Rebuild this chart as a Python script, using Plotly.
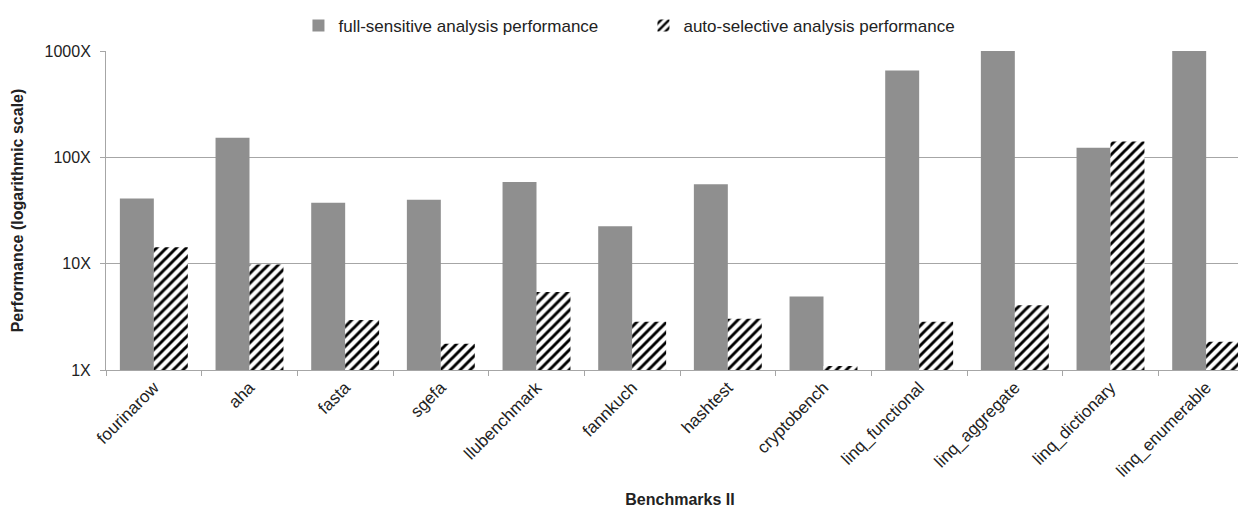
import plotly.graph_objects as go

categories = ["fourinarow", "aha", "fasta", "sgefa", "llubenchmark", "fannkuch",
              "hashtest", "cryptobench", "linq_functional", "linq_aggregate",
              "linq_dictionary", "linq_enumerable"]
full_sensitive = [41, 153, 37.3, 40, 58.7, 22.5, 55.8, 4.9, 654, 1000, 123, 1000]
auto_selective = [14.3, 9.8, 2.96, 1.77, 5.42, 2.84, 3.03, 1.09, 2.84, 4.07, 141, 1.84]
y_tickvals = [1, 10, 100, 1000]
y_ticktext = ["1X", "10X", "100X", "1000X"]

FONT = "Liberation Sans, Arial, sans-serif"

fig = go.Figure()
fig.add_trace(go.Bar(
    x=categories, y=full_sensitive, name="full-sensitive analysis performance",
    marker=dict(color="#8f8f8f", line=dict(width=0)),
))
fig.add_trace(go.Bar(
    x=categories, y=auto_selective, name="auto-selective analysis performance",
    marker=dict(color="white", line=dict(width=0),
                pattern=dict(shape="/", fgcolor="#000000", bgcolor="white",
                             size=7, solidity=0.42, fgopacity=1)),
))

fig.update_layout(
    width=1246, height=506,
    margin=dict(l=98, r=0, t=43, b=144, autoexpand=False),
    paper_bgcolor="white", plot_bgcolor="white",
    barmode="group", bargap=0.29, bargroupgap=0,
    font=dict(family=FONT, size=16, color="#222"),
    legend=dict(orientation="h", x=0.51, xref="container", xanchor="center",
                y=1.0, yref="container", yanchor="top",
                font=dict(size=17), traceorder="normal",
                itemwidth=30, entrywidth=300, entrywidthmode="pixels"),
    showlegend=True,
)

fig.update_xaxes(
    type="category", tickangle=-45, showgrid=False,
    showline=True, linecolor="#a6a6a6", linewidth=1,
    ticks="outside", tickson="boundaries", ticklen=5, tickcolor="#a6a6a6",
    tickfont=dict(size=17, color="#222"),
    title=dict(text="<b>Benchmarks II</b>", font=dict(size=16, color="#222"), standoff=14),
    automargin=False,
)
fig.update_yaxes(
    type="log", range=[0, 3],
    tickvals=y_tickvals, ticktext=y_ticktext,
    showgrid=True, gridcolor="#a6a6a6", gridwidth=1,
    showline=True, linecolor="#a6a6a6", linewidth=1,
    ticks="outside", ticklen=5, tickcolor="#a6a6a6",
    ticklabelstandoff=6,
    tickfont=dict(size=16, color="#222"),
    title=dict(text="<b>Performance (logarithmic scale)</b>", font=dict(size=16, color="#222"), standoff=16),
    zeroline=False, automargin=False,
)

fig.write_html("out.html")
